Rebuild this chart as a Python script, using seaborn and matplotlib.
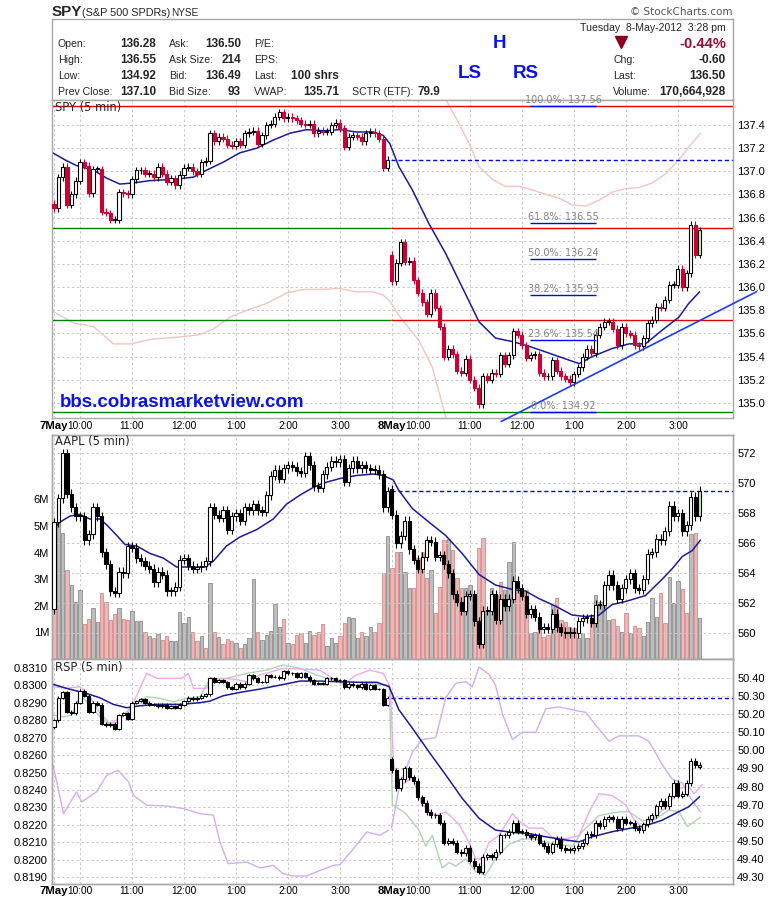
import numpy as np
import matplotlib
matplotlib.use("Agg")
import matplotlib.pyplot as plt
import matplotlib.transforms as mtransforms
import seaborn as sns

# ---------------------------------------------------------------- data
hour_ticks = [0, 6, 18, 30, 42, 54, 66, 78, 84, 96, 108, 120, 132, 144]
hour_labels = ["7May", "10:00", "11:00", "12:00", "1:00", "2:00", "3:00",
               "8May", "10:00", "11:00", "12:00", "1:00", "2:00", "3:00"]

# SPY 5-min closes (day 1 = 7 May, day 2 = 8 May)
spy_open_d1 = 136.72
spy_close_d1 = [136.68, 136.95, 137.04, 136.71, 136.80, 136.92, 137.08, 137.05, 136.81, 137.02,
                137.02, 136.65, 136.64, 136.58, 136.58, 136.82, 136.81, 136.80, 136.93, 137.01,
                137.01, 136.98, 136.98, 136.95, 137.04, 136.98, 136.91, 136.94, 136.88, 136.97,
                137.03, 137.04, 137.00, 136.98, 137.08, 137.09, 137.33, 137.26, 137.30, 137.28,
                137.23, 137.22, 137.26, 137.23, 137.33, 137.34, 137.35, 137.24, 137.31, 137.40,
                137.41, 137.47, 137.51, 137.46, 137.47, 137.46, 137.44, 137.41, 137.40, 137.41,
                137.33, 137.35, 137.34, 137.34, 137.40, 137.42, 137.37, 137.21, 137.30, 137.31,
                137.30, 137.26, 137.33, 137.34, 137.33, 137.28, 137.03, 137.10]
spy_open_d2 = 136.28
spy_close_d2 = [136.05, 136.21, 136.39, 136.22, 136.23, 136.06, 135.95, 135.87, 135.77, 135.95,
                135.82, 135.66, 135.40, 135.47, 135.42, 135.28, 135.26, 135.38, 135.20, 135.13,
                134.99, 135.23, 135.20, 135.26, 135.25, 135.41, 135.34, 135.41, 135.62, 135.59,
                135.50, 135.39, 135.41, 135.42, 135.26, 135.23, 135.23, 135.37, 135.28, 135.23,
                135.21, 135.18, 135.25, 135.31, 135.40, 135.47, 135.43, 135.59, 135.66, 135.70,
                135.70, 135.64, 135.50, 135.66, 135.60, 135.59, 135.50, 135.49, 135.56, 135.69,
                135.72, 135.83, 135.82, 135.89, 136.02, 136.02, 136.16, 136.00, 136.12, 136.54,
                136.28, 136.49]
spy_ma_x = [-0.3, 2.5, 5.2, 9.1, 12.2, 15.2, 18.3, 22.2, 27.5, 32.2, 35.2, 39.1, 42.9, 46.8, 50.6,
            54.5, 58.3, 62.2, 66.0, 69.8, 73.7, 76.0, 77.5, 79.6, 82.7, 86.5, 90.4, 94.2, 98.1,
            101.9, 105.8, 109.6, 113.5, 117.3, 121.2, 124.2, 128.8, 132.7, 136.5, 140.4, 144.2,
            146.5, 149.0]
spy_ma_v = [137.16, 137.10, 137.05, 137.01, 136.94, 136.89, 136.90, 136.92, 136.93, 136.95, 137.01,
            137.08, 137.16, 137.20, 137.27, 137.33, 137.36, 137.35, 137.36, 137.34, 137.34, 137.31,
            137.24, 137.04, 136.84, 136.55, 136.29, 136.00, 135.70, 135.56, 135.53, 135.49, 135.44,
            135.39, 135.34, 135.40, 135.47, 135.51, 135.51, 135.63, 135.74, 135.86, 135.96]
spy_lower_x = [-0.3, 4.5, 9.1, 13.7, 17.9, 22.2, 29.1, 33.7, 36.8, 40.6, 44.5, 49.1, 53.7, 57.5,
               62.2, 65.6, 69.8, 73.7, 76.0, 77.5, 79.5, 81.2, 84.2, 87.3, 90.4, 91.5]
spy_lower_v = [135.79, 135.69, 135.66, 135.51, 135.51, 135.55, 135.57, 135.59, 135.64, 135.74,
               135.80, 135.86, 135.95, 135.98, 135.98, 135.99, 135.96, 135.96, 135.93, 135.88,
               135.76, 135.68, 135.54, 135.31, 134.88, 134.70]
spy_upper_x = [89.5, 90.4, 93.5, 95.8, 98.1, 101.2, 104.2, 107.3, 110.4, 113.5, 116.5, 119.6,
               122.7, 125.8, 128.8, 131.9, 135.0, 138.1, 141.2, 144.2, 146.5, 149.2]
spy_upper_v = [137.75, 137.62, 137.41, 137.24, 137.04, 136.93, 136.87, 136.87, 136.84, 136.80,
               136.77, 136.71, 136.70, 136.75, 136.82, 136.85, 136.86, 136.90, 136.98, 137.10,
               137.21, 137.33]
spy_level_hi, spy_level_mid, spy_level_top, spy_level_low = 136.51, 135.72, 137.56, 134.92
spy_prev_close = 137.10
spy_trend_x = [103.2, 162.1]
spy_trend_v = [134.84, 135.96]
fib_pct = ["100.0%", "61.8%", "50.0%", "38.2%", "23.6%", "0.0%"]
fib_val = [137.56, 136.55, 136.24, 135.93, 135.54, 134.92]
spy_ticks = [135.0, 135.2, 135.4, 135.6, 135.8, 136.0, 136.2, 136.4, 136.6, 136.8, 137.0, 137.2, 137.4]

# AAPL 5-min closes and volume (millions)
aapl_open_d1 = 561.6
aapl_close_d1 = [567.4, 569.0, 572.0, 569.3, 568.4, 567.8, 567.8, 566.2, 566.6, 568.4,
                 567.8, 565.4, 564.6, 562.8, 562.7, 564.1, 564.0, 565.8, 565.7, 565.0,
                 564.8, 564.5, 564.3, 563.4, 564.1, 563.9, 562.8, 562.8, 563.1, 564.9,
                 565.0, 564.5, 564.3, 564.4, 564.5, 564.8, 568.4, 567.9, 567.7, 568.2,
                 566.9, 567.8, 568.0, 567.5, 568.4, 568.2, 568.6, 568.2, 568.1, 569.2,
                 570.5, 570.9, 570.3, 571.0, 571.2, 571.1, 570.8, 570.7, 571.8, 571.2,
                 569.8, 569.7, 570.6, 571.1, 571.5, 571.4, 571.6, 570.1, 571.0, 571.5,
                 571.0, 571.2, 571.0, 570.9, 570.9, 570.6, 568.4, 569.45]
aapl_open_d2 = 569.6
aapl_close_d2 = [567.9, 566.0, 566.5, 567.5, 565.6, 564.9, 564.3, 565.1, 566.2, 566.1,
                 565.1, 565.2, 564.6, 564.0, 562.6, 562.1, 561.5, 562.5, 562.6, 560.8,
                 559.3, 561.5, 561.5, 562.6, 560.9, 562.3, 561.8, 562.3, 563.5, 563.0,
                 562.5, 561.3, 561.6, 561.1, 560.3, 560.4, 560.3, 561.3, 560.4, 560.1,
                 560.0, 560.1, 560.0, 560.8, 561.0, 561.0, 560.7, 561.9, 561.9, 563.2,
                 563.9, 563.2, 562.3, 563.0, 563.6, 564.0, 563.0, 562.9, 563.6, 565.3,
                 565.4, 566.3, 566.2, 566.8, 568.5, 567.8, 568.0, 566.8, 567.2, 569.1,
                 567.8, 569.5]
aapl_vol_d1 = [4.16, 5.64, 4.72, 3.35, 2.78, 2.13, 2.59, 1.30, 1.49, 1.90,
               1.40, 2.47, 2.13, 1.47, 1.68, 1.90, 1.49, 1.47, 1.80, 1.43,
               1.43, 1.03, 0.88, 0.78, 0.93, 0.71, 0.88, 0.68, 0.68, 1.75,
               1.37, 1.57, 1.00, 0.68, 0.88, 0.43, 2.84, 1.00, 0.81, 0.56,
               0.74, 0.68, 0.59, 0.43, 0.55, 0.78, 3.01, 1.03, 0.71, 0.90,
               1.05, 2.06, 1.22, 1.49, 0.59, 0.55, 0.90, 0.96, 0.59, 1.05,
               0.90, 1.00, 1.30, 0.50, 0.78, 0.59, 0.88, 1.34, 1.57, 1.53,
               0.78, 1.00, 0.88, 1.19, 1.00, 1.34, 3.25, 4.62]
aapl_vol_d2 = [3.41, 4.03, 4.03, 3.28, 2.66, 2.66, 3.78, 4.03, 3.03, 3.35,
               1.72, 2.72, 4.47, 4.50, 4.10, 3.03, 2.66, 2.66, 2.78, 1.84,
               4.16, 4.54, 1.84, 2.66, 2.41, 2.91, 2.59, 3.66, 4.39, 2.91,
               2.53, 2.59, 0.96, 1.03, 1.34, 0.84, 0.90, 2.03, 2.28, 1.47,
               1.40, 1.22, 1.15, 0.78, 0.96, 0.78, 1.65, 2.41, 2.16, 2.41,
               1.47, 1.49, 1.25, 1.03, 1.72, 0.96, 1.24, 1.15, 0.88, 1.40,
               2.28, 1.59, 2.47, 1.34, 3.10, 2.09, 2.94, 2.63, 1.72, 4.69,
               4.72, 1.55]
# g = up-volume (grey), p = down-volume (pink)
aapl_vol_kind_d1 = ("pggpgggppg" "gppppgppgg" "gpgpgppggg" "ggppgpgpgp"
                    "ppgpgggpgg" "gggpgpppgg" "pppgggppgg" "gpggpppg")
aapl_vol_kind_d2 = ("ppgggppppg" "pppgpppggp" "ppggppgggp" "ppggpppgpp"
                    "pppgggpggg" "gppgpgppgg" "ggppgggppg" "pg")
aapl_ma_x = [-0.3, 1.4, 3.7, 6, 8.3, 10.6, 12.2, 14.5, 16.4, 19.1, 22.2, 25.2, 28.3, 31.4, 34.8,
             36.8, 39.8, 42.9, 46.8, 50.6, 53.7, 56.8, 59.8, 62.2, 66, 69.8, 73.7, 76, 78.3, 79.6,
             82.7, 86.5, 90.4, 94.2, 98.1, 101.9, 105.8, 108.8, 111.9, 115.7, 119.6, 122.7, 125.8,
             128.8, 131.9, 136.5, 140.4, 142.7, 145, 147.3, 149.2]
aapl_ma_v = [566.9, 567.4, 567.8, 567.9, 567.6, 567.6, 567.2, 566.5, 565.9, 565.8, 565.3, 565.0,
             564.4, 564.4, 564.4, 564.8, 565.8, 566.4, 566.9, 567.6, 568.6, 569.2, 569.7, 570.0,
             570.3, 570.5, 570.6, 570.5, 570.2, 569.5, 568.3, 567.4, 566.5, 565.3, 563.9, 563.2,
             562.9, 562.8, 562.3, 561.8, 561.2, 561.1, 561.2, 561.9, 562.1, 562.5, 563.6, 564.3,
             565.1, 565.5, 566.2]
aapl_prev_close = 569.45
aapl_ticks = [560, 562, 564, 566, 568, 570, 572]
vol_ticks = [1, 2, 3, 4, 5, 6]

# RSP panel: day 1 on the left scale, day 2 on the right scale
rsp_open_d1 = 0.8276
rsp_close_d1 = [0.8280, 0.8293, 0.8296, 0.8285, 0.8284, 0.8290, 0.8297, 0.8294, 0.8285, 0.8290,
                0.8289, 0.8278, 0.8277, 0.8278, 0.8275, 0.8283, 0.8284, 0.8281, 0.8290, 0.8291,
                0.8292, 0.8290, 0.8289, 0.8289, 0.8288, 0.8289, 0.8287, 0.8288, 0.8287, 0.8289,
                0.8291, 0.8293, 0.8292, 0.8293, 0.8294, 0.8295, 0.8304, 0.8302, 0.8303, 0.8302,
                0.8299, 0.8298, 0.8301, 0.8299, 0.8301, 0.8306, 0.8304, 0.8302, 0.8302, 0.8306,
                0.8305, 0.8305, 0.8304, 0.8308, 0.8307, 0.8307, 0.8305, 0.8307, 0.8305, 0.8303,
                0.8301, 0.8301, 0.8301, 0.8304, 0.8304, 0.8303, 0.8303, 0.8299, 0.8301, 0.8300,
                0.8299, 0.8301, 0.8298, 0.8300, 0.8298, 0.8298, 0.8289, 0.8293]
rsp_open_d2 = 49.95
rsp_close_d2 = [49.89, 49.79, 49.84, 49.90, 49.85, 49.83, 49.74, 49.71, 49.66, 49.64,
                49.64, 49.60, 49.49, 49.50, 49.49, 49.44, 49.43, 49.46, 49.39, 49.36,
                49.33, 49.41, 49.42, 49.41, 49.44, 49.53, 49.53, 49.55, 49.60, 49.55,
                49.55, 49.53, 49.52, 49.53, 49.49, 49.47, 49.44, 49.48, 49.51, 49.46,
                49.45, 49.45, 49.46, 49.47, 49.49, 49.54, 49.53, 49.60, 49.58, 49.62,
                49.63, 49.62, 49.57, 49.62, 49.60, 49.60, 49.57, 49.56, 49.59, 49.62,
                49.64, 49.69, 49.72, 49.69, 49.75, 49.82, 49.75, 49.76, 49.82, 49.94,
                49.92, 49.91]
rsp_ma1_x = [-0.15, 2.9, 7.5, 10.6, 13.7, 16.8, 19.8, 23.7, 29.1, 33.7, 36.0, 39.1, 42.9, 47.5,
             52.2, 56.8, 61.4, 66.0, 70.6, 74.5, 77.3]
rsp_ma1_v = [0.83006, 0.82983, 0.82954, 0.82929, 0.82891, 0.82872, 0.82883, 0.82891, 0.82891,
             0.82901, 0.82910, 0.82941, 0.82960, 0.82979, 0.83002, 0.83025, 0.83025, 0.83021,
             0.83018, 0.83018, 0.82993]
rsp_ma2_x = [77.3, 79.6, 82.7, 86.5, 90.4, 94.2, 98.1, 101.9, 105.8, 109.6, 113.5, 117.3, 121.2,
             124.2, 128.8, 132.7, 136.5, 140.4, 144.2, 146.5, 149.0]
rsp_ma2_v = [50.354, 50.224, 50.123, 49.993, 49.864, 49.735, 49.624, 49.559, 49.546, 49.540,
             49.522, 49.507, 49.494, 49.522, 49.550, 49.568, 49.583, 49.614, 49.661, 49.688, 49.744]
rsp_mag1_x = [-0.2, 2.9, 6.0, 8.3, 10.6, 12.9, 15.2, 17.5, 19.5, 21.4, 23.7, 29.5, 31.0, 32.2,
              35.2, 36.4, 41.4, 44.5, 47.5, 52.9, 56.8, 61.4, 64.5, 66.8, 69.8, 72.9, 76.0, 77.5]
rsp_mag1_v = [0.82993, 0.82983, 0.82993, 0.82935, 0.82839, 0.82782, 0.82811, 0.82858, 0.82964,
              0.83069, 0.83041, 0.83041, 0.83069, 0.82983, 0.82983, 0.83041, 0.83037, 0.83021,
              0.83060, 0.83098, 0.83094, 0.83088, 0.83037, 0.83006, 0.83060, 0.83088, 0.83069,
              0.82993]
rsp_mag2_x = [77.6, 78.4, 80.4, 82.7, 85.0, 88.1, 90.4, 93.5, 95.8, 97.3, 98.8, 100.4, 102.7,
              105.8, 107.3, 109.6, 112.7, 115.0, 118.1, 121.2, 123.5, 125.8, 128.8, 131.9, 133.8,
              135.8, 137.3, 139.6, 141.9, 144.2, 146.5, 147.7, 149.6]
rsp_mag2_v = [50.35, 49.91, 49.81, 49.85, 49.70, 49.64, 49.66, 49.59, 49.49, 49.40, 49.40, 49.49,
              49.53, 49.65, 49.61, 49.57, 49.57, 49.52, 49.51, 49.53, 49.66, 49.76, 49.75, 49.70,
              49.62, 49.57, 49.60, 49.65, 49.70, 49.79, 49.80, 49.76, 49.81]
rsp_grn1_x = [-0.2, 2.2, 4.1, 6.0, 8.3, 10.6, 12.9, 14.8, 16.8, 19.1, 21.4, 24.5, 27.5, 30.6,
              33.7, 36.0, 39.8, 44.5, 49.1, 52.9, 56.8, 60.6, 64.5, 68.3, 72.2, 77.2]
rsp_grn1_v = [0.82830, 0.82820, 0.82830, 0.82945, 0.82887, 0.82820, 0.82772, 0.82791, 0.82849,
              0.82906, 0.82935, 0.82926, 0.82906, 0.82926, 0.82935, 0.83037, 0.83041, 0.83069,
              0.83088, 0.83117, 0.83098, 0.83060, 0.83031, 0.82993, 0.83012, 0.83002]
rsp_grn2_x = [77.4, 78.1, 81.2, 84.2, 85.8, 87.3, 89.6, 91.2, 92.7, 95.0, 97.3, 99.6, 101.9,
              105.0, 108.1, 111.2, 113.5, 116.5, 119.6, 121.9, 125.8, 130.4, 132.7, 135.8, 138.8,
              141.9, 144.2, 146.2, 149.2]
rsp_grn2_v = [50.35, 49.70, 49.65, 49.56, 49.47, 49.53, 49.35, 49.38, 49.36, 49.40, 49.33, 49.31,
              49.40, 49.48, 49.51, 49.51, 49.49, 49.48, 49.47, 49.55, 49.64, 49.66, 49.66, 49.61,
              49.62, 49.67, 49.66, 49.58, 49.63]
rsp_vio1_x = [-0.2, 2.2, 5.2, 6.4, 9.8, 12.2, 14.8, 17.2, 18.3, 21.4, 26.0, 29.8, 33.7, 36.8,
              38.3, 40.2, 44.5, 47.5, 50.6, 52.9, 55.2, 58.3, 61.4, 64.5, 66.0, 69.1, 72.2, 75.2, 77.2]
rsp_vio1_v = [0.82542, 0.82264, 0.82389, 0.82331, 0.82389, 0.82485, 0.82513, 0.82446, 0.82370,
              0.82312, 0.82308, 0.82293, 0.82264, 0.82255, 0.82101, 0.81977, 0.81986, 0.81952,
              0.81967, 0.81919, 0.81906, 0.81906, 0.81938, 0.81967, 0.81971, 0.82063, 0.82159,
              0.82140, 0.82168]
rsp_vio2_x = [77.9, 79.6, 82.7, 85.0, 88.1, 90.4, 92.7, 95.0, 96.5, 98.1, 100.4, 101.9, 103.5,
              105.8, 108.1, 111.2, 113.5, 116.5, 120.4, 122.7, 125.0, 128.1, 130.4, 135.0, 137.3,
              140.4, 142.7, 145.0, 146.5, 149.2]
rsp_vio2_v = [49.57, 49.79, 49.99, 50.06, 50.07, 50.29, 50.37, 50.38, 50.35, 50.46, 50.42, 50.36,
              50.20, 50.06, 50.10, 50.10, 50.23, 50.24, 50.22, 50.21, 50.14, 50.05, 50.08, 50.08,
              50.05, 49.92, 49.84, 49.82, 49.75, 49.66]
rsp_prev_close = 50.29
rsp_left_ticks = [0.8190, 0.8200, 0.8210, 0.8220, 0.8230, 0.8240, 0.8250, 0.8260, 0.8270,
                  0.8280, 0.8290, 0.8300, 0.8310]
rsp_right_ticks = [49.30, 49.40, 49.50, 49.60, 49.70, 49.80, 49.90, 50.00, 50.10, 50.20,
                   50.30, 50.40]

# header text
hdr_col1 = [("Open:", "136.28"), ("High:", "136.55"), ("Low:", "134.92"), ("Prev Close:", "137.10")]
hdr_col2 = [("Ask:", "136.50"), ("Ask Size:", "214"), ("Bid:", "136.49"), ("Bid Size:", "93")]
hdr_col3 = [("P/E:", ""), ("EPS:", ""), ("Last:", "100 shrs"), ("VWAP:", "135.71")]
hdr_right = [("Chg:", "-0.60"), ("Last:", "136.50"), ("Volume:", "170,664,928")]

# ---------------------------------------------------------------- style
sns.set_theme(style="white")
plt.rcParams["font.family"] = ["Liberation Sans", "DejaVu Sans"]
W, H = 780, 901
fig = plt.figure(figsize=(W / 100, H / 100), dpi=100)
fig.patch.set_facecolor("white")

def box(x0, y0, x1, y1):
    return [x0 / W, 1 - y1 / H, (x1 - x0) / W, (y1 - y0) / H]

X0, X1 = 52, 733
BAR_PX = 4.333
XLIM = ((X0 - 54) / BAR_PX, (X1 - 54) / BAR_PX)
SPLIT = 77.7
GRIDC = "#c9c9c9"
GRIDLS = (0, (2.5, 2.5))
SPINE = "#a8a8a8"
RED = "#cc0033"
MA_C = "#1c1c96"

ax_hdr = fig.add_axes(box(X0, 19, X1, 100))
ax_spy = fig.add_axes(box(X0, 100, X1, 418))
ax_vol = fig.add_axes(box(X0, 435, X1, 659))
ax_aapl = ax_vol.twinx()
ax_rl = fig.add_axes(box(X0, 659, X1, 884))
ax_rr = ax_rl.twinx()
ax_spy.set_zorder(3)

for a in (ax_hdr, ax_spy, ax_vol, ax_aapl, ax_rl, ax_rr):
    for s in a.spines.values():
        s.set_color(SPINE)
        s.set_linewidth(1.0)
    a.tick_params(length=0, labelsize=8, colors="black", pad=3)
for a in (ax_spy, ax_vol, ax_rl):
    a.set_xlim(*XLIM)
    for t in hour_ticks:
        a.axvline(t, color=GRIDC, lw=0.7, ls=GRIDLS, zorder=0.5)

xs = np.arange(len(spy_close_d1) + len(spy_close_d2))
x1 = xs[:len(spy_close_d1)]
x2 = xs[len(spy_close_d1):]


def ohlc(open0, closes):
    c = np.asarray(closes, float)
    return np.r_[open0, c[:-1]], c


def candles(ax, x, o, c, wick, dn_col, up_col="black", last_fill=None):
    hi = np.maximum(o, c) + wick
    lo = np.minimum(o, c) - wick
    down = c < o
    edge = [dn_col if d else up_col for d in down]
    fill = [dn_col if d else "white" for d in down]
    if last_fill is not None:
        fill[-1] = last_fill
    ax.vlines(x, lo, hi, colors=edge, lw=0.8, zorder=3)
    h = np.maximum(np.abs(c - o), wick * 0.15)
    ax.bar(x, h, bottom=np.minimum(o, c), width=0.7, color=fill, edgecolor=edge,
           linewidth=0.8, zorder=4)


def line(ax, x, y, color, lw=1.0, z=2, alpha=1.0):
    sns.lineplot(x=np.asarray(x, float), y=np.asarray(y, float), ax=ax, color=color, lw=lw,
                 estimator=None, sort=False, legend=False, zorder=z, alpha=alpha)


def xlabels(ax):
    ax.set_xticks(hour_ticks)
    ax.set_xticklabels(hour_labels)
    for lb in ax.get_xticklabels():
        lb.set_fontsize(7.3)
        if "May" in lb.get_text():
            lb.set_fontweight("bold")
            lb.set_fontsize(8.2)


# ---------------------------------------------------------------- header
ax_hdr.set_xlim(X0, X1)
ax_hdr.set_ylim(100, 19)
ax_hdr.set_xticks([])
ax_hdr.set_yticks([])
rows_y = [44, 60, 76, 92]
for col, (lx, vx) in zip((hdr_col1, hdr_col2, hdr_col3), ((58, 156), (169, 241), (254, 339))):
    for (lab, val), y in zip(col, rows_y):
        ax_hdr.text(lx, y, lab, fontsize=7.6, va="center", ha="left")
        if val:
            ax_hdr.text(vx, y, val, fontsize=8.5, fontweight="bold", va="center", ha="right")
ax_hdr.text(352, 92, "SCTR (ETF):", fontsize=7.6, va="center")
ax_hdr.text(440, 92, "79.9", fontsize=8.5, fontweight="bold", va="center", ha="right")
ax_hdr.text(726, 28, "Tuesday  8-May-2012  3:28 pm", fontsize=7.6, va="center", ha="right")
ax_hdr.plot([621], [42], marker="v", markersize=9, color="#8b0022", ls="none")
ax_hdr.text(726, 44, "-0.44%", fontsize=10.5, fontweight="bold", color="#9c0a32",
            va="center", ha="right")
for (lab, val), y in zip(hdr_right, rows_y[1:]):
    ax_hdr.text(613, y, lab, fontsize=7.6, va="center")
    ax_hdr.text(726, y, val, fontsize=8.6, fontweight="bold", va="center", ha="right")
for s, x, y in (("H", 500, 44), ("LS", 470, 73), ("RS", 526, 73)):
    ax_hdr.text(x, y, s, fontsize=13.5, fontweight="bold", color="#0a14e6", va="center", ha="center")

fig.text(52 / W, 1 - 12 / H, "SPY", fontsize=11, fontweight="bold", va="center")
fig.text(82 / W, 1 - 12.5 / H, "(S&P 500 SPDRs)", fontsize=7.8, va="center")
fig.text(171 / W, 1 - 12.5 / H, "NYSE", fontsize=7.2, va="center")
fig.text(733 / W, 1 - 12 / H, "\u00a9 StockCharts.com", fontsize=7.5, va="center", ha="right",
         color="#555555", family="DejaVu Sans")

# ---------------------------------------------------------------- SPY panel
ax_spy.set_ylim(134.87, 137.616)
for t in spy_ticks:
    ax_spy.axhline(t, color=GRIDC, lw=0.7, ls=GRIDLS, zorder=0.5)
line(ax_spy, spy_lower_x, spy_lower_v, "#f2c4c4", lw=1.0, z=1)
line(ax_spy, spy_upper_x, spy_upper_v, "#f2c4c4", lw=1.0, z=1)
ax_spy.axhline(spy_level_top, color="#e00000", lw=1.0, zorder=1.5)
ax_spy.axhline(spy_level_low, color="#008000", lw=1.0, zorder=1.5)
ax_spy.hlines([spy_level_hi, spy_level_mid], XLIM[0], SPLIT, color="#008000", lw=1.0, zorder=1.5)
ax_spy.hlines([spy_level_hi, spy_level_mid], SPLIT, XLIM[1], color="#e00000", lw=1.0, zorder=1.5)
ax_spy.hlines(spy_prev_close, SPLIT, XLIM[1], color="#0000ee", lw=1.0, ls=(0, (3, 2)), zorder=1.5)
line(ax_spy, spy_ma_x, spy_ma_v, MA_C, lw=1.1, z=2)
o1, c1 = ohlc(spy_open_d1, spy_close_d1)
o2, c2 = ohlc(spy_open_d2, spy_close_d2)
candles(ax_spy, x1, o1, c1, 0.03, RED)
candles(ax_spy, x2, o2, c2, 0.03, RED, last_fill="#c4f4b4")
ax_spy.plot(spy_trend_x, spy_trend_v, color="#1e3cf0", lw=1.2, clip_on=False, zorder=5)
fib_tr = mtransforms.offset_copy(ax_spy.transData, fig=fig, y=1.0, units="points")
for p, v in zip(fib_pct, fib_val):
    ax_spy.hlines(v, 109.9, 125.1, color="#0000ee", lw=1.0, zorder=5, clip_on=False)
    ax_spy.text(117.5, v, f"{p}: {v:.2f}", transform=fib_tr, ha="center", va="bottom",
                fontsize=7, color="#858585", family="DejaVu Sans", zorder=6, clip_on=False)
ax_spy.yaxis.tick_right()
ax_spy.set_yticks(spy_ticks)
ax_spy.set_yticklabels([f"{t:.1f}" for t in spy_ticks])
xlabels(ax_spy)
ax_spy.tick_params(axis="x", pad=2.5)
fig.text(60 / W, 1 - 402 / H, "bbs.cobrasmarketview.com", fontsize=13.5, fontweight="bold",
         color="#0a14e6", va="center", zorder=10)
fig.text(55 / W, 1 - 107 / H, "SPY (5 min)", fontsize=8.3, va="center", family="DejaVu Sans",
         zorder=10)

# ---------------------------------------------------------------- AAPL panel
vol = np.r_[aapl_vol_d1, aapl_vol_d2]
kinds = aapl_vol_kind_d1 + aapl_vol_kind_d2
vfill = ["#bdbdbd" if k == "g" else "#ebb7b7" for k in kinds]
vedge = ["#8e8e8e" if k == "g" else "#d48a8a" for k in kinds]
ax_vol.bar(xs, vol, width=0.8, color=vfill, edgecolor=vedge, linewidth=0.6, zorder=1)
ax_vol.set_ylim(0, 8.42)
ax_vol.set_yticks(vol_ticks)
ax_vol.set_yticklabels([f"{v}M" for v in vol_ticks])
ax_vol.tick_params(axis="y", pad=2)
ax_vol.set_xticks(hour_ticks)
ax_vol.set_xticklabels([])
AAPL_LIM = (558.27, 573.2)
ax_aapl.set_ylim(*AAPL_LIM)
for t in aapl_ticks:
    ax_aapl.axhline(t, color=GRIDC, lw=0.7, ls=GRIDLS, zorder=0.5)
line(ax_aapl, aapl_ma_x, aapl_ma_v, MA_C, lw=1.1, z=2)
ax_aapl.hlines(aapl_prev_close, SPLIT, XLIM[1], color="#0000ee", lw=1.0, ls=(0, (3, 2)), zorder=1.5)
ao1, ac1 = ohlc(aapl_open_d1, aapl_close_d1)
ao2, ac2 = ohlc(aapl_open_d2, aapl_close_d2)
candles(ax_aapl, x1, ao1, ac1, 0.3, "black")
candles(ax_aapl, x2, ao2, ac2, 0.3, "black", last_fill="#c4f4b4")
ax_aapl.set_yticks(aapl_ticks)
ax_aapl.set_yticklabels([str(t) for t in aapl_ticks])
ax_aapl.set_xlim(*XLIM)
fig.text(55 / W, 1 - 442 / H, "AAPL (5 min)", fontsize=8.3, va="center", family="DejaVu Sans",
         zorder=10)

# ---------------------------------------------------------------- RSP panel
ax_rl.set_ylim(0.81860, 0.831517)
ax_rr.set_ylim(49.261, 50.505)
ax_rl.hlines(rsp_left_ticks, XLIM[0], SPLIT, color=GRIDC, lw=0.7, ls=GRIDLS, zorder=0.5)
ax_rr.hlines(rsp_right_ticks, SPLIT, XLIM[1], color=GRIDC, lw=0.7, ls=GRIDLS, zorder=0.5)
line(ax_rl, rsp_vio1_x, rsp_vio1_v, "#cdb0f2", lw=1.0, z=1)
line(ax_rl, rsp_grn1_x, rsp_grn1_v, "#b0d4b0", lw=1.0, z=1)
line(ax_rl, rsp_mag1_x, rsp_mag1_v, "#f0a8f0", lw=1.0, z=1)
line(ax_rl, rsp_ma1_x, rsp_ma1_v, MA_C, lw=1.1, z=2)
line(ax_rr, rsp_vio2_x, rsp_vio2_v, "#cdb0f2", lw=1.0, z=1)
line(ax_rr, rsp_grn2_x, rsp_grn2_v, "#b0d4b0", lw=1.0, z=1)
line(ax_rr, rsp_mag2_x, rsp_mag2_v, "#f0a8f0", lw=1.0, z=1)
line(ax_rr, rsp_ma2_x, rsp_ma2_v, MA_C, lw=1.1, z=2)
ax_rr.hlines(rsp_prev_close, SPLIT, XLIM[1], color="#0000ee", lw=1.0, ls=(0, (3, 2)), zorder=1.5)
ro1, rc1 = ohlc(rsp_open_d1, rsp_close_d1)
ro2, rc2 = ohlc(rsp_open_d2, rsp_close_d2)
candles(ax_rl, x1, ro1, rc1, 0.00008, "black")
candles(ax_rr, x2, ro2, rc2, 0.015, "black", last_fill="#c4f4b4")
ax_rl.set_yticks(rsp_left_ticks)
ax_rl.set_yticklabels([f"{t:.4f}" for t in rsp_left_ticks])
ax_rr.set_yticks(rsp_right_ticks)
ax_rr.set_yticklabels([f"{t:.2f}" for t in rsp_right_ticks])
ax_rl.set_xlim(*XLIM)
ax_rr.set_xlim(*XLIM)
xlabels(ax_rl)
ax_rl.tick_params(axis="x", pad=1.5)
fig.text(55 / W, 1 - 667 / H, "RSP (5 min)", fontsize=8.3, va="center", family="DejaVu Sans",
         zorder=10)

fig.savefig("out.png", dpi=100, facecolor="white")
